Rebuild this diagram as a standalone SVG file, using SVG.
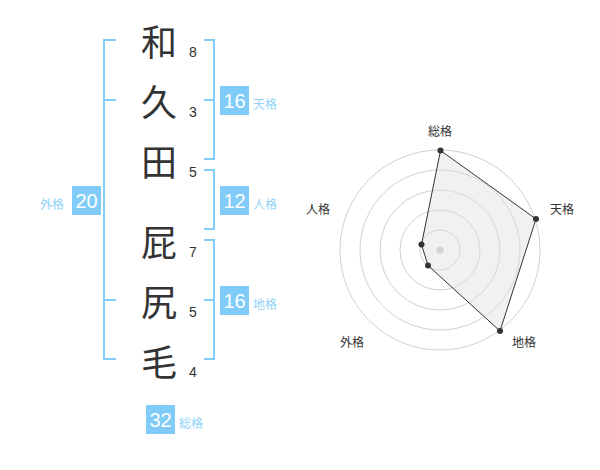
<svg xmlns="http://www.w3.org/2000/svg" width="600" height="470" viewBox="0 0 600 470">
<style>
.kanji{font-family:"Noto Sans CJK JP","Noto Sans CJK SC",sans-serif;font-size:36px;fill:#333;text-anchor:middle;dominant-baseline:central}
.num{font-family:"Liberation Sans",Arial,sans-serif;font-size:14px;fill:#333;text-anchor:middle;dominant-baseline:central}
.br{fill:none;stroke:#84cdf9;stroke-width:2}
.box{fill:#80cbf8}
.bv{font-family:"Liberation Sans",Arial,sans-serif;font-size:20px;fill:#fff;text-anchor:middle;dominant-baseline:central}
.bl{font-family:"Noto Sans CJK JP",sans-serif;font-size:12px;fill:#8fd2f7;dominant-baseline:central}
.ring{fill:none;stroke:#d0d0d0;stroke-width:1}
.rl{font-family:"Noto Sans CJK JP",sans-serif;font-size:12px;fill:#333;text-anchor:middle;dominant-baseline:central}
.pt{fill:#333}
</style>
<g id="chars">
<g id="c1"><text class="kanji" x="159" y="40">和</text><text class="num" x="193" y="52">8</text></g>
<g id="c2"><text class="kanji" x="159" y="100">久</text><text class="num" x="193" y="112">3</text></g>
<g id="c3"><text class="kanji" x="159" y="160">田</text><text class="num" x="193" y="172">5</text></g>
<g id="c4"><text class="kanji" x="159" y="240">屁</text><text class="num" x="193" y="252">7</text></g>
<g id="c5"><text class="kanji" x="159" y="300">尻</text><text class="num" x="193" y="312">5</text></g>
<g id="c6"><text class="kanji" x="159" y="360">毛</text><text class="num" x="193" y="372">4</text></g>
</g>
<g id="connectors">
<path class="br" d="M116,40 H104 V359 H116 M104,100 H116 M104,300 H116"/>
<path class="br" d="M204,40 H214 V159 H204 M214,100 H204"/>
<path class="br" d="M204,170 H214 V229 H204"/>
<path class="br" d="M204,240 H214 V359 H204 M214,300 H204"/>
</g>
<g id="gaikaku"><rect class="box" x="72" y="186" width="29" height="29"/><text class="bv" x="86.5" y="200.5">20</text><text class="bl" x="40" y="203">外格</text></g>
<g id="tenkaku"><rect class="box" x="220" y="86" width="29" height="29"/><text class="bv" x="234.5" y="100.5">16</text><text class="bl" x="253" y="103">天格</text></g>
<g id="jinkaku"><rect class="box" x="220" y="186" width="29" height="29"/><text class="bv" x="234.5" y="200.5">12</text><text class="bl" x="253" y="203">人格</text></g>
<g id="chikaku"><rect class="box" x="220" y="286" width="29" height="29"/><text class="bv" x="234.5" y="300.5">16</text><text class="bl" x="253" y="303">地格</text></g>
<g id="soukaku"><rect class="box" x="146" y="405" width="29" height="29"/><text class="bv" x="160.5" y="419.5">32</text><text class="bl" x="179" y="422">総格</text></g>
<g id="radar">
<circle class="ring" cx="440" cy="250" r="20"/>
<circle class="ring" cx="440" cy="250" r="40"/>
<circle class="ring" cx="440" cy="250" r="60"/>
<circle class="ring" cx="440" cy="250" r="80"/>
<circle class="ring" cx="440" cy="250" r="100"/>
<circle cx="440" cy="250" r="3.5" fill="#c8c8c8"/>
<polygon points="440.5,150.5 536,219 500,331 428,265.5 421.5,244.5" fill="#e0e0e0" fill-opacity="0.45" stroke="#333" stroke-width="1"/>
<circle class="pt" cx="440.5" cy="150.5" r="3"/>
<circle class="pt" cx="536" cy="219" r="3"/>
<circle class="pt" cx="500" cy="331" r="3"/>
<circle class="pt" cx="428" cy="265.5" r="3"/>
<circle class="pt" cx="421.5" cy="244.5" r="3"/>
<text class="rl" x="440" y="130">総格</text>
<text class="rl" x="562" y="208">天格</text>
<text class="rl" x="524" y="341">地格</text>
<text class="rl" x="352" y="341">外格</text>
<text class="rl" x="318" y="208">人格</text>
</g>
</svg>
